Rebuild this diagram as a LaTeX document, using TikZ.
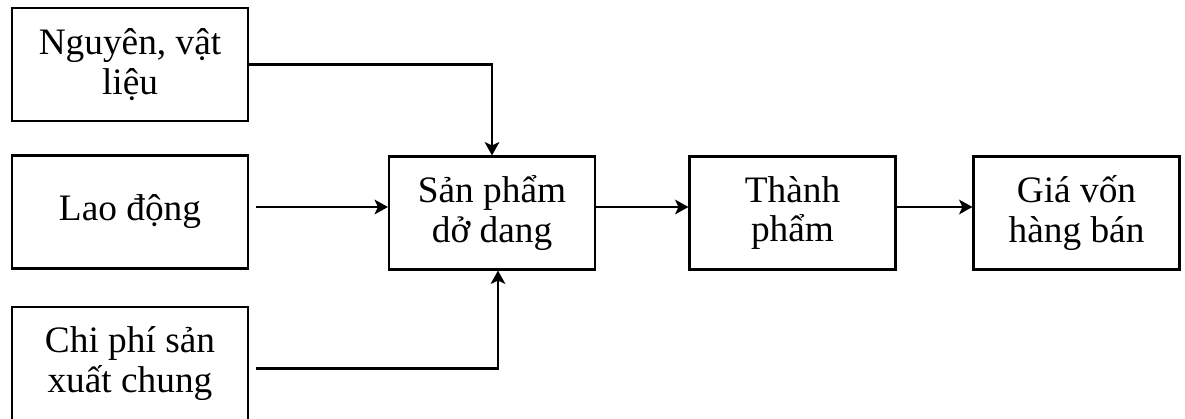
\documentclass[tikz,border=0pt]{standalone}
\usepackage{fontspec}
\setmainfont{Liberation Serif}
\usetikzlibrary{arrows.meta,positioning,calc}

\begin{document}
\begin{tikzpicture}
[x=0.75pt,y=-0.75pt,
-{Stealth[length=10pt,width=11pt,inset=2.5pt]}, line width=1.6pt,
box/.style={rectangle,draw,-,align=center,inner sep=0pt,
minimum height=84.75pt,font=\fontsize{28}{29.5}\selectfont},
left box/.style={box,minimum width=177pt},
right box/.style={box,minimum width=154.5pt}]
\useasboundingbox (0,0) rectangle (1185,418);
\node (nvl) at (130,64.5)[left box] {Nguyên, vật\\liệu};
\node (ld) at (130,212)[left box] {Lao động};
\node (cpsx) at (130,363.5)[left box] {Chi phí sản\\xuất chung};
\node (spdd) at (492,213)[right box] {Sản phẩm\\dở dang};
\node (tp) at (792.5,213)[right box] {Thành\\phẩm};
\node (gv) at (1076.5,213)[right box] {Giá vốn\\hàng bán};

\draw (nvl.east) -| (spdd.north);
\draw ([shift={(7,-5)}]ld.east) -- ([shift={(0,-6)}]spdd.west);
\draw ([shift={(7,5)}]cpsx.east) -| ([xshift=4.5pt]spdd.south);
\draw ([shift={(0,-6)}]spdd.east) -- ([shift={(0,-6)}]tp.west);
\draw ([shift={(0,-6)}]tp.east) -- ([shift={(0,-6)}]gv.west);

\end{tikzpicture}
\end{document}
